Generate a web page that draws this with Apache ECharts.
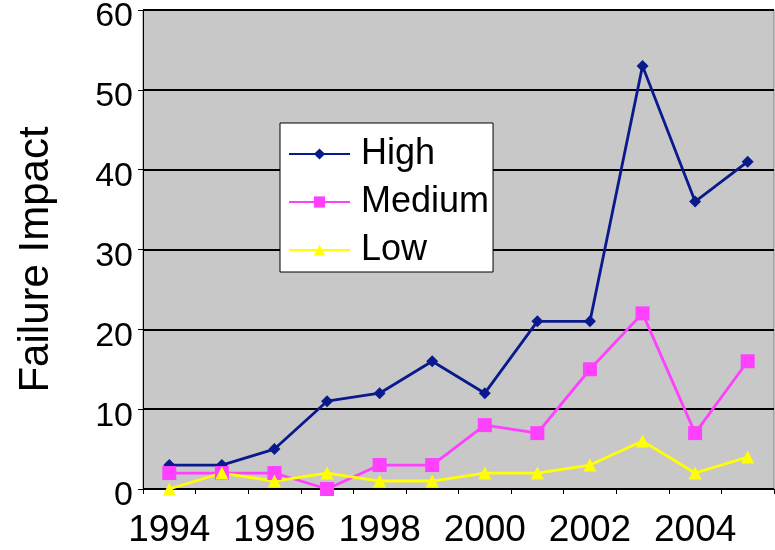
<!DOCTYPE html>
<html>
<head>
<meta charset="utf-8">
<script src="https://cdn.jsdelivr.net/npm/echarts@6/dist/echarts.min.js"></script>
<style>
html,body{margin:0;padding:0;background:#fff;}
#c{width:775px;height:550px;}
</style>
</head>
<body>
<div id="c"></div>
<script>
const years = ['1994','1995','1996','1997','1998','1999','2000','2001','2002','2003','2004','2005'];
const high = [3, 3, 5, 11, 12, 16, 12, 21, 21, 53, 36, 41];
const medium = [2, 2, 2, 0, 3, 3, 8, 7, 15, 22, 7, 16];
const low = [0, 2, 1, 2, 1, 1, 2, 2, 3, 6, 2, 4];
const yTicks = [0, 10, 20, 30, 40, 50, 60];

const FONT = '"Liberation Sans", Arial, sans-serif';
const chart = echarts.init(document.getElementById('c'), null, {renderer: 'canvas'});
chart.setOption({
  animation: false,
  backgroundColor: '#ffffff',
  textStyle: {fontFamily: FONT},
  grid: {
    left: 143, right: 1, top: 10, bottom: 61,
    show: true, backgroundColor: '#c8c8c8', borderColor: '#808080', borderWidth: 1,
    containLabel: false,
    outerBoundsMode: 'none'
  },
  legend: {
    orient: 'vertical',
    left: 280, top: 123,
    width: 200,
    backgroundColor: '#ffffff',
    borderColor: '#000000', borderWidth: 1, borderRadius: 0,
    padding: [11, 4, 2, 8],
    itemWidth: 61, itemHeight: 14, itemGap: 8,
    textStyle: {fontSize: 36, fontFamily: FONT, color: '#000', lineHeight: 40, padding: [0, 0, 0, 6]},
    data: ['High', 'Medium', 'Low']
  },
  xAxis: {
    type: 'category',
    data: years,
    boundaryGap: true,
    axisLine: {lineStyle: {color: '#000', width: 1}},
    axisTick: {show: true, interval: 0, length: 5, lineStyle: {color: '#000'}},
    axisLabel: {interval: 1, fontSize: 37, color: '#000', margin: 23, fontFamily: FONT, hideOverlap: false},
    splitLine: {show: false}
  },
  yAxis: {
    type: 'value',
    min: yTicks[0], max: yTicks[yTicks.length - 1], interval: 10,
    name: 'Failure Impact',
    nameLocation: 'middle',
    nameGap: 86,
    nameTextStyle: {fontSize: 42, color: '#000', fontFamily: FONT, padding: [0, 20, 0, 0]},
    axisLine: {show: true, lineStyle: {color: '#000', width: 1}},
    axisTick: {show: true, length: 5, lineStyle: {color: '#000'}},
    axisLabel: {fontSize: 34, color: '#000', margin: 10, fontFamily: FONT, verticalAlign: 'top', lineHeight: 14},
    splitLine: {show: true, lineStyle: {color: '#000', width: 2}}
  },
  series: [
    {
      name: 'High', type: 'line', data: high,
      symbol: 'diamond', symbolSize: 12,
      lineStyle: {color: '#0a1a8c', width: 2.8},
      itemStyle: {color: '#0a1a8c'}
    },
    {
      name: 'Medium', type: 'line', data: medium,
      symbol: 'rect', symbolSize: 14,
      lineStyle: {color: '#ff40ff', width: 2.8},
      itemStyle: {color: '#ff40ff'}
    },
    {
      name: 'Low', type: 'line', data: low,
      symbol: 'triangle', symbolSize: 13,
      lineStyle: {color: '#ffff00', width: 2.8},
      itemStyle: {color: '#ffff00'}
    }
  ]
});
</script>
</body>
</html>
